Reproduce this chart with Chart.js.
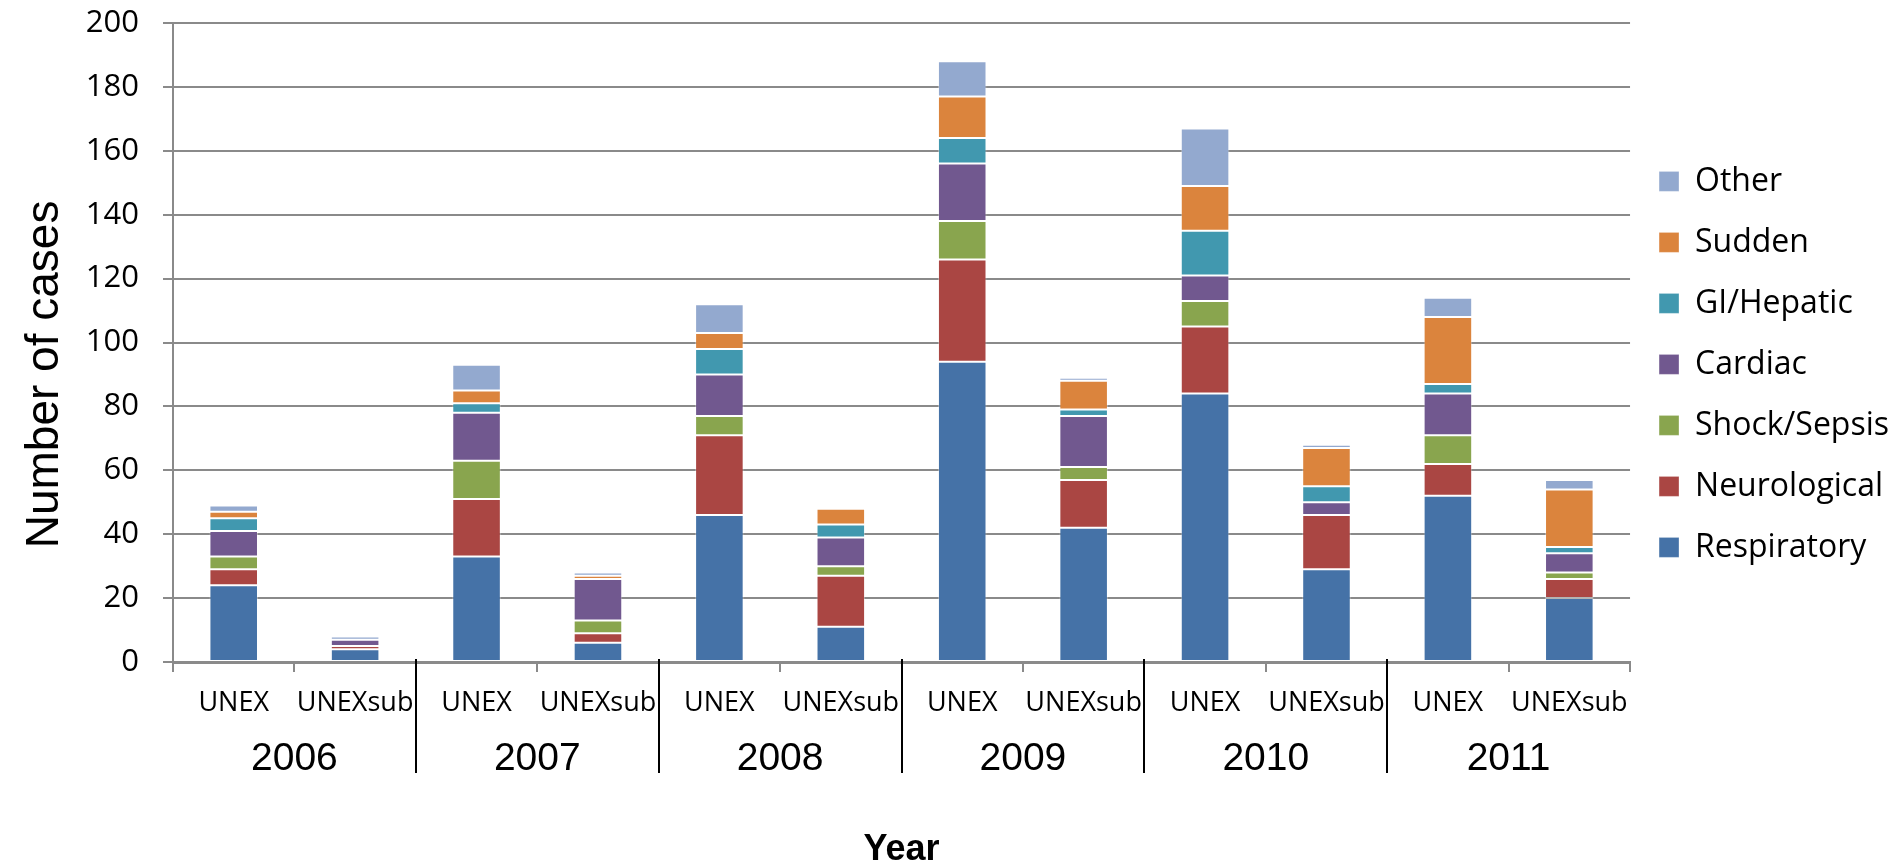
<!DOCTYPE html>
<html>
<head>
<meta charset="utf-8">
<script src="https://cdn.jsdelivr.net/npm/chart.js@4.4.1/dist/chart.umd.min.js"></script>
<style>html,body{margin:0;padding:0;background:#fff}</style>
</head>
<body>
<canvas id="casesChart" width="1899" height="868"></canvas>
<script>
// two bars per year, stacked by cause
const categories = ['UNEX','UNEXsub','UNEX','UNEXsub','UNEX','UNEXsub','UNEX','UNEXsub','UNEX','UNEXsub','UNEX','UNEXsub'];
const years = ['2006','2007','2008','2009','2010','2011'];

const respiratory  = [24,4,33,6,46,11,94,42,84,29,52,20];
const neurological = [5,1,18,3,25,16,32,15,21,17,10,6];
const shockSepsis  = [4,0,12,4,6,3,12,4,8,0,9,2];
const cardiac      = [8,2,15,13,13,9,18,16,8,4,13,6];
const giHepatic    = [4,0,3,0,8,4,8,2,14,5,3,2];
const sudden       = [2,0,4,1,5,5,13,9,14,12,21,18];
const other        = [2,1,8,1,9,0,11,1,18,1,6,3];

const yMin = 0, yMax = 200, yStep = 20;

const gridGray = '#8a8a8a';

function series(label, data, color){
  return {label, data, backgroundColor: color, borderColor: 'rgba(255,255,255,0.35)', borderWidth: 1, borderSkipped: false};
}

// long black lines between the year groups
const groupDividers = {
  id: 'groupDividers',
  afterDraw(chart){
    const {ctx, chartArea, scales} = chart;
    const x = scales.x, x2 = scales.x2;
    ctx.save();
    ctx.strokeStyle = '#000';
    ctx.lineWidth = 2;
    for(let i = 2; i < categories.length; i += 2){
      const px = Math.round((x.getPixelForValue(i - 1) + x.getPixelForValue(i)) / 2);
      ctx.beginPath();
      ctx.moveTo(px, chartArea.bottom - 3);
      ctx.lineTo(px, x2.top + 51);
      ctx.stroke();
    }
    ctx.restore();
  }
};

new Chart(document.getElementById('casesChart'), {
  type: 'bar',
  data: {
    labels: categories,
    datasets: [
      series('Respiratory', respiratory, '#4572A7'),
      series('Neurological', neurological, '#AA4643'),
      series('Shock/Sepsis', shockSepsis, '#89A54E'),
      series('Cardiac', cardiac, '#71588F'),
      series('GI/Hepatic', giHepatic, '#4198AF'),
      series('Sudden', sudden, '#DB843D'),
      series('Other', other, '#93A9CF')
    ]
  },
  options: {
    responsive: false,
    animation: false,
    layout: {padding: 0},
    datasets: {bar: {barPercentage: 0.4, categoryPercentage: 1.0}},
    plugins: {
      tooltip: {enabled: false},
      legend: {
        position: 'right',
        align: 'start',
        reverse: true,
        title: {display: true, text: '', padding: {top: 122, bottom: 0}},
        labels: {
          boxWidth: 20, boxHeight: 20, padding: 29, color: '#000',
          font: {family: '"Open Sans"', size: 32}
        }
      }
    },
    scales: {
      x: {
        stacked: true,
        weight: 0,
        offset: true,
        grid: {display: true, drawOnChartArea: false, offset: true, tickLength: 10, color: gridGray, lineWidth: 2},
        border: {display: true, color: gridGray, width: 3},
        ticks: {color: '#000', padding: 15, maxRotation: 0, autoSkip: false, font: {family: '"Open Sans"', size: 27}},
        afterFit(s){ s.height = 60; }
      },
      x2: {
        type: 'category',
        labels: years,
        position: 'bottom',
        weight: 1,
        offset: true,
        grid: {display: false},
        border: {display: false},
        ticks: {color: '#000', padding: 6, maxRotation: 0, font: {family: '"Liberation Sans"', size: 39}},
        title: {display: true, text: 'Year', color: '#000', padding: {top: 0, bottom: 0},
          font: {family: '"Liberation Sans"', size: 36, weight: 'bold', lineHeight: 1}},
        afterFit(s){ s.height = 146; }
      },
      y: {
        stacked: true,
        min: yMin, max: yMax,
        ticks: {stepSize: yStep, color: '#000', padding: 24, font: {family: '"Open Sans"', size: 31}},
        grid: {color: gridGray, lineWidth: 2, tickLength: 10},
        border: {display: true, color: gridGray, width: 2},
        title: {display: true, text: 'Number of cases     ', color: '#000', padding: {top: 18, bottom: 0},
          font: {family: '"Liberation Sans"', size: 46}},
        afterFit(s){ s.width = 173; s.paddingTop = 23; s.paddingBottom = 0; }
      }
    }
  },
  plugins: [groupDividers]
});
</script>
</body>
</html>
